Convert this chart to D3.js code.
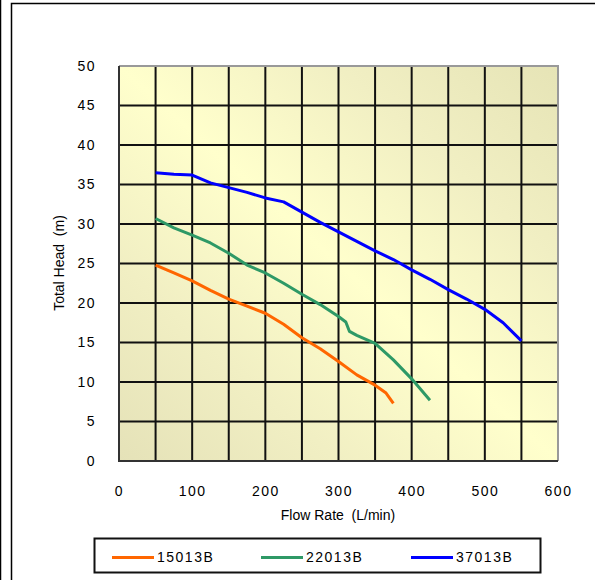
<!DOCTYPE html>
<html><head><meta charset="utf-8">
<script src="https://cdn.jsdelivr.net/npm/d3@7"></script>
<style>
html,body{margin:0;padding:0;background:#fff;}
svg{display:block;}
text{font-family:"Liberation Sans",Arial,sans-serif;fill:#000;}
</style></head>
<body><svg id="c" width="595" height="580"></svg>
<script>
const seriesNames = ["15013B", "22013B", "37013B"];
const seriesColors = ["#ff6600", "#2e9966", "#0000ff"];
const flow15 = [50, 75, 100, 125, 150, 175, 200, 225, 250, 275, 300, 325, 350, 365, 375];
const head15 = [24.8, 23.8, 22.8, 21.6, 20.5, 19.6, 18.7, 17.3, 15.6, 14.2, 12.6, 10.9, 9.6, 8.6, 7.3];
const flow22 = [50, 75, 100, 125, 150, 175, 200, 225, 250, 275, 300, 310, 315, 325, 350, 375, 400, 425];
const head22 = [30.7, 29.5, 28.6, 27.6, 26.3, 24.8, 23.8, 22.5, 21.1, 19.8, 18.3, 17.6, 16.4, 15.9, 14.9, 12.8, 10.4, 7.7];
const flow37 = [50, 75, 100, 125, 150, 175, 200, 225, 250, 275, 300, 325, 350, 375, 400, 425, 450, 475, 500, 525, 550];
const head37 = [36.5, 36.3, 36.2, 35.2, 34.6, 34.0, 33.3, 32.8, 31.5, 30.2, 29.0, 27.8, 26.6, 25.5, 24.2, 23.0, 21.7, 20.5, 19.2, 17.5, 15.2];
const xTicks = [0, 100, 200, 300, 400, 500, 600];
const yTicks = [0, 5, 10, 15, 20, 25, 30, 35, 40, 45, 50];
const xGrid = d3.range(0, 601, 50);
const xTitle = "Flow Rate\u00a0\u00a0(L/min)";
const yTitle = "Total Head\u00a0\u00a0(m)";

const flows = [flow15, flow22, flow37];
const heads = [head15, head22, head37];

const svg = d3.select("#c");
const L = 119, R = 558, T = 66, B = 461;
const x = d3.scaleLinear().domain([0, 600]).range([L, R]);
const y = d3.scaleLinear().domain([0, 50]).range([B, T]);

// outer frame
svg.append("line").attr("x1",0.5).attr("x2",0.5).attr("y1",0).attr("y2",580).attr("stroke","#000").attr("stroke-width",1.5);
svg.append("path").attr("d","M11.5,600V3.5H600").attr("fill","none").attr("stroke","#000").attr("stroke-width",1.5);

// background gradient (banded diagonal)
const defs = svg.append("defs");
const g = defs.append("linearGradient").attr("id","bg").attr("x1",0).attr("y1",1).attr("x2",1).attr("y2",0);
const stops = [[0,"#e5e2b8"],[0.25,"#f1efc3"],[0.5,"#ffffcc"],[0.75,"#f1efc3"],[1,"#e6e4b6"]];
stops.forEach(s=>g.append("stop").attr("offset",s[0]).attr("stop-color",s[1]));
svg.append("rect").attr("x",L).attr("y",T).attr("width",R-L).attr("height",B-T).attr("fill","url(#bg)");

// grid
const grid = svg.append("g");
xGrid.forEach(v=>{ if(v>0 && v<600) grid.append("line").attr("x1",x(v)).attr("x2",x(v)).attr("y1",T).attr("y2",B).attr("stroke","#111").attr("stroke-width",2); });
yTicks.forEach(v=>{ if(v>0 && v<50) grid.append("line").attr("x1",L).attr("x2",R).attr("y1",y(v)).attr("y2",y(v)).attr("stroke","#111").attr("stroke-width",2); });
// plot border
svg.append("path").attr("d",`M${L},${T}H${R}V${B}`).attr("fill","none").attr("stroke","#999").attr("stroke-width",2);
svg.append("path").attr("d",`M${L},${T}V${B}H${R}`).attr("fill","none").attr("stroke","#333").attr("stroke-width",2);

// axes (tick labels)
const yAxis = d3.axisLeft(y).tickValues(yTicks).tickSize(0).tickPadding(23);
const ya = svg.append("g").attr("transform",`translate(${L},0)`).call(yAxis);
const xAxis = d3.axisBottom(x).tickValues(xTicks).tickSize(0).tickPadding(25);
const xa = svg.append("g").attr("transform",`translate(0,${B})`).call(xAxis);
[ya,xa].forEach(a=>{ a.select(".domain").remove(); a.selectAll("text").attr("font-size",14).attr("font-family","Liberation Sans, Arial, sans-serif").attr("fill","#000").style("letter-spacing","1.5px"); });

svg.append("text").attr("x",338).attr("y",520).attr("text-anchor","middle").attr("font-size",14).text(xTitle);
svg.append("text").attr("transform","translate(64,263) rotate(-90)").attr("text-anchor","middle").attr("font-size",14).text(yTitle);

// lines
const line = d3.line().x(d=>x(d[0])).y(d=>y(d[1]));
flows.forEach((f,i)=>{
  svg.append("path").datum(f.map((v,j)=>[v,heads[i][j]])).attr("d",line)
    .attr("fill","none").attr("stroke",seriesColors[i]).attr("stroke-width",3).attr("stroke-linejoin","round");
});

// legend
svg.append("rect").attr("x",94.5).attr("y",538.5).attr("width",446).attr("height",34).attr("fill","#fff").attr("stroke","#111").attr("stroke-width",2);
const lx = [112, 261, 411];
seriesNames.forEach((n,i)=>{
  svg.append("line").attr("x1",lx[i]).attr("x2",lx[i]+42).attr("y1",557.5).attr("y2",557.5).attr("stroke",seriesColors[i]).attr("stroke-width",3);
  svg.append("text").attr("x",lx[i]+45).attr("y",562).attr("font-size",14).style("letter-spacing","1.5px").text(n);
});
</script></body></html>
